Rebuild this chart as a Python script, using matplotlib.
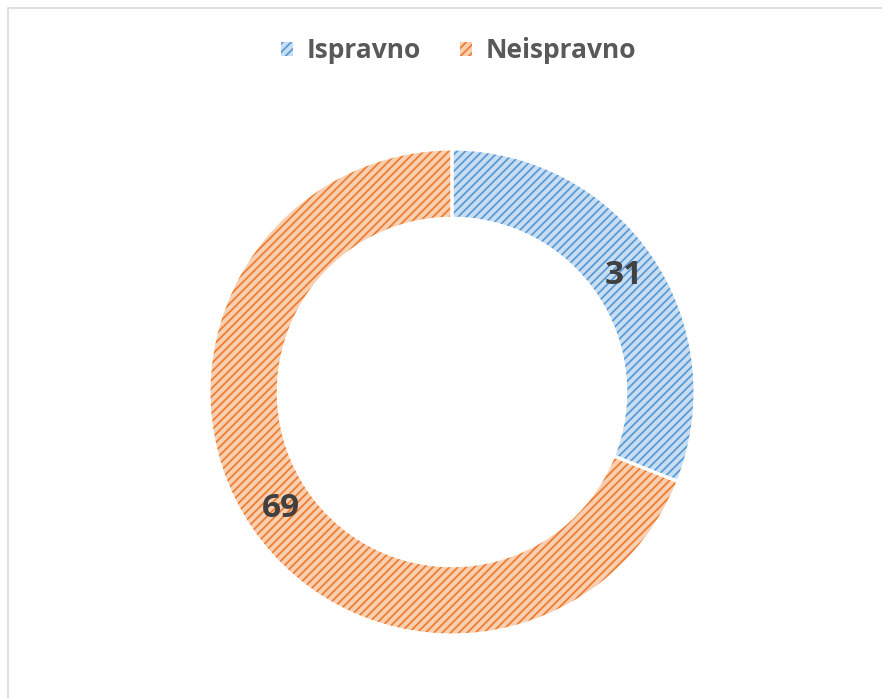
import matplotlib
matplotlib.use("Agg")
import matplotlib.pyplot as plt
from matplotlib.patches import Rectangle
import numpy as np

categories = ["Ispravno", "Neispravno"]
values = [31, 69]
line_colors = ["#5B9BD5", "#ED7D31"]
face_colors = ["#C9DEF2", "#F9CFB2"]

plt.rcParams['font.family'] = ['Open Sans', 'DejaVu Sans']
plt.rcParams['hatch.linewidth'] = 1.3

fig = plt.figure(figsize=(8.82, 6.98), dpi=100)
fig.patch.set_facecolor("white")

# chart border
fig.patches.append(Rectangle((7.5 / 882, -0.1), 1.2, 1 - 8 / 698 + 0.1,
                             transform=fig.transFigure, fill=False,
                             edgecolor="#D9D9D9", linewidth=1.2))

R = 243
cx, cy = 452, 392
ax = fig.add_axes([(cx - R) / 882, (698 - cy - R) / 698, 2 * R / 882, 2 * R / 698])
width = 0.285
wedges, _ = ax.pie(values, startangle=90, counterclock=False, radius=1,
                   colors=face_colors,
                   wedgeprops=dict(width=width, linewidth=0))
for w, lc in zip(wedges, line_colors):
    w.set_hatch("////")
    w.set_edgecolor(lc)
    w.set_linewidth(0)
# white separators on top
sep, _ = ax.pie(values, startangle=90, counterclock=False, radius=1,
                colors=["none", "none"],
                wedgeprops=dict(width=width, linewidth=2.2, edgecolor="white"))
ax.set_xlim(-1, 1)
ax.set_ylim(-1, 1)
ax.axis("off")

r_lab = 1 - width / 2 - 0.005
for w, v in zip(wedges, values):
    ang = np.deg2rad((w.theta1 + w.theta2) / 2)
    ax.text(r_lab * np.cos(ang), r_lab * np.sin(ang), str(v), ha="center", va="center",
            fontsize=24, fontweight="bold", color="#404040")

leg = fig.legend(handles=wedges, labels=categories, loc="center",
                 bbox_to_anchor=(458.5 / 882, 1 - 51 / 698), ncol=2, frameon=False,
                 prop=dict(family="Open Sans", weight="bold", size=19),
                 handlelength=0.45, handleheight=0.45, handletextpad=0.5,
                 columnspacing=1.5, labelcolor="#595959")

fig.savefig("out.png", dpi=100, facecolor="white")
